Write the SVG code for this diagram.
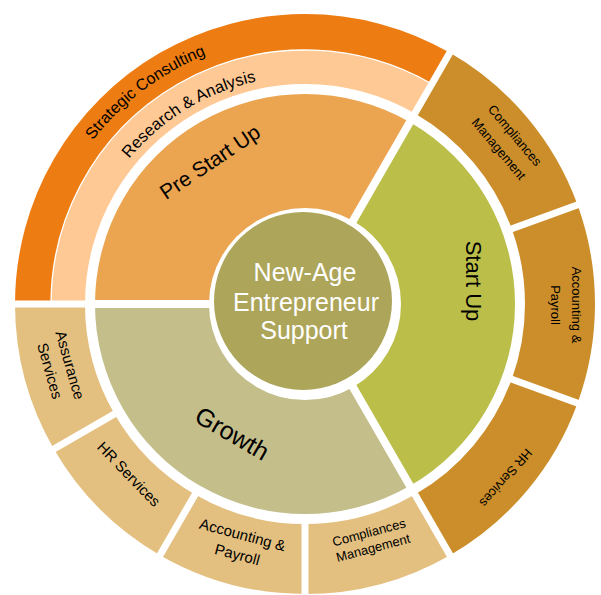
<svg xmlns="http://www.w3.org/2000/svg" width="601" height="595" viewBox="0 0 601 595">
<style>
text{font-family:"Liberation Sans",Arial,sans-serif;fill:#000}
.sep{stroke:#fff;stroke-width:7;fill:none}
.sepi{stroke:#fff;stroke-width:8;fill:none}
.s13{font-size:13px}
.s15{font-size:15px}
.mid{text-anchor:middle}
</style>
<defs>
<path id="arcSC" d="M37.37,289.97 A268,268 0 0 1 365.29,42.87"/>
<path id="arcRA" d="M79.56,269.9 A228,228 0 0 1 377.72,87.91"/>
</defs>
<rect width="601" height="595" fill="#fff"/>
<g id="strategic-consulting">
<path d="M51,304 A254,254 0 0 1 432,84.03 L450,52.85 A290,290 0 0 0 15,304 Z" fill="#ED7D12"/>
<text font-size="16" class="mid"><textPath href="#arcSC" startOffset="50%">Strategic Consulting</textPath></text>
</g>
<g id="research-analysis">
<path d="M85,304 A220,220 0 0 1 415,113.47 L432,84.03 A254,254 0 0 0 51,304 Z" fill="#FFC995"/>
<text font-size="16.5" class="mid"><textPath href="#arcRA" startOffset="50%">Research &amp; Analysis</textPath></text>
</g>
<g id="compliances-r">
<path d="M415,113.47 A220,220 0 0 1 511.73,228.76 L577.51,204.82 A290,290 0 0 0 450,52.85 Z" fill="#CB8E2A"/>
<g transform="translate(507,142) rotate(50)"><text class="s13 mid" y="-5.8">Compliances</text><text class="s13 mid" y="15.2">Management</text></g>
</g>
<g id="accounting-r">
<path d="M511.73,228.76 A220,220 0 0 1 511.73,379.24 L577.51,403.18 A290,290 0 0 0 577.51,204.82 Z" fill="#CB8E2A"/>
<g transform="translate(566.5,305) rotate(90)"><text class="s13 mid" y="-5.8">Accounting &amp;</text><text class="s13 mid" y="15.2">Payroll</text></g>
</g>
<g id="hr-r">
<path d="M511.73,379.24 A220,220 0 0 1 415,494.53 L450,555.15 A290,290 0 0 0 577.51,403.18 Z" fill="#CB8E2A"/>
<g transform="translate(506,478) rotate(131)"><text class="s13 mid" y="4.6">HR Services</text></g>
</g>
<g id="compliances-b">
<path d="M415,494.53 A220,220 0 0 1 305,524 L305,594 A290,290 0 0 0 450,555.15 Z" fill="#E4C080"/>
<g transform="translate(371,540) rotate(-15)"><text class="s13 mid" y="-3.4">Compliances</text><text class="s13 mid" y="12.6">Management</text></g>
</g>
<g id="accounting-b">
<path d="M305,524 A220,220 0 0 1 195,494.53 L160,555.15 A290,290 0 0 0 305,594 Z" fill="#E4C080"/>
<g transform="translate(240,544.5) rotate(15)"><text class="s15 mid" y="-4.9">Accounting &amp;</text><text class="s15 mid" y="15.6">Payroll</text></g>
</g>
<g id="hr-b">
<path d="M195,494.53 A220,220 0 0 1 114.47,414 L53.85,449 A290,290 0 0 0 160,555.15 Z" fill="#E4C080"/>
<g transform="translate(129,474) rotate(46)"><text class="s15 mid" y="5.4">HR Services</text></g>
</g>
<g id="assurance">
<path d="M114.47,414 A220,220 0 0 1 85,304 L15,304 A290,290 0 0 0 53.85,449 Z" fill="#E4C080"/>
<g transform="translate(60,368) rotate(74)"><text class="s15 mid" y="-5.2">Assurance</text><text class="s15 mid" y="15.8">Services</text></g>
</g>
<g id="pre-start-up">
<path d="M95,304 A210,210 0 0 1 410,122.13 L353,220.86 A96,96 0 0 0 209,304 Z" fill="#EBA450"/>
<text transform="translate(214,168) rotate(-34)" font-size="21" class="mid">Pre Start Up</text>
</g>
<g id="start-up">
<path d="M410,122.13 A210,210 0 0 1 410,485.87 L353,387.14 A96,96 0 0 0 353,220.86 Z" fill="#BBBF4A"/>
<text transform="translate(466,281) rotate(90)" font-size="22" class="mid">Start Up</text>
</g>
<g id="growth">
<path d="M410,485.87 A210,210 0 0 1 95,304 L209,304 A96,96 0 0 0 353,387.14 Z" fill="#C4BE8A"/>
<text transform="translate(228,441) rotate(30)" font-size="25" class="mid">Growth</text>
</g>
<g id="connectors">
<line class="sep" x1="412.5" y1="117.4" x2="452.5" y2="48.1"/>
<line class="sep" x1="507" y1="230.5" x2="582" y2="203.2"/>
<line class="sep" x1="507" y1="377.5" x2="582" y2="404.8"/>
<line class="sep" x1="412.5" y1="490.2" x2="452.5" y2="559.5"/>
<line class="sep" x1="305" y1="519" x2="305" y2="599"/>
<line class="sep" x1="197.5" y1="490.2" x2="157.5" y2="559.5"/>
<line class="sep" x1="118.8" y1="411.5" x2="49.5" y2="451.5"/>
<line class="sep" x1="90" y1="304" x2="10" y2="304"/>
<line class="sepi" x1="350" y1="226" x2="412.5" y2="117.4"/>
<line class="sepi" x1="350" y1="382" x2="412.5" y2="490.2"/>
<line class="sepi" x1="215" y1="304" x2="90" y2="304"/>
<path d="M51,304 A254,254 0 0 1 432,84.03" fill="none" stroke="#fff" stroke-width="1.3"/>
</g>
<g id="center">
<circle cx="303" cy="301" r="89" fill="#ADA55A"/>
<text font-size="25" class="mid" style="fill:#fff"><tspan x="305" y="281">New-Age</tspan><tspan x="306" y="311">Entrepreneur</tspan><tspan x="304" y="339">Support</tspan></text>
</g>
</svg>
